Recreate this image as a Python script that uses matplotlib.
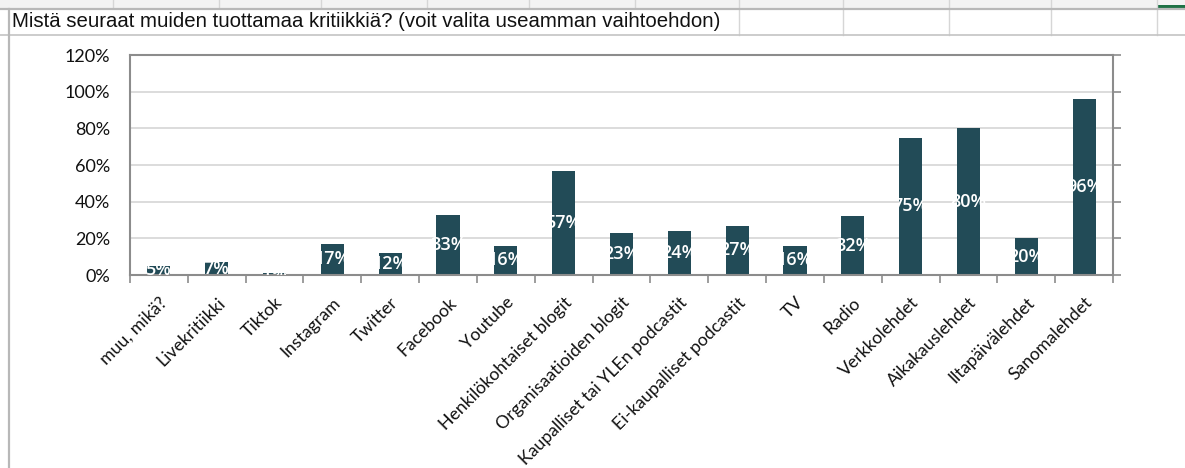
import matplotlib
matplotlib.use("Agg")
import matplotlib.pyplot as plt
from matplotlib.lines import Line2D
from matplotlib.patches import Rectangle
import matplotlib.transforms as mtransforms
import numpy as np

title = "Mistä seuraat muiden tuottamaa kritiikkiä? (voit valita useamman vaihtoehdon)"
categories = ["muu, mikä?", "Livekritiikki", "Tiktok", "Instagram", "Twitter", "Facebook",
              "Youtube", "Henkilökohtaiset blogit", "Organisaatioiden blogit",
              "Kaupalliset tai YLEn podcastit", "Ei-kaupalliset podcastit", "TV", "Radio",
              "Verkkolehdet", "Aikakauslehdet", "Iltapäivälehdet", "Sanomalehdet"]
values = [5, 7, 1, 17, 12, 33, 16, 57, 23, 24, 27, 16, 32, 75, 80, 20, 96]
yticks = [0, 20, 40, 60, 80, 100, 120]
ytick_labels = ["0%", "20%", "40%", "60%", "80%", "100%", "120%"]

W, H = 1185, 468
fig = plt.figure(figsize=(W / 100, H / 100), dpi=100)
fig.patch.set_facecolor("white")

def px(x, y):
    return x / W, 1 - y / H

# spreadsheet background
grid_c = "#d6d6d6"
fig.add_artist(Rectangle(px(0, 8), 1, 8 / H, transform=fig.transFigure, color="#f3f3f3", lw=0))
for xv in [113, 219, 321, 427, 529, 635]:
    fig.add_artist(Line2D([xv / W] * 2, [1 - 0 / H, 1 - 8 / H], transform=fig.transFigure, color=grid_c, lw=1))
for xv in [739, 843, 949, 1051, 1157]:
    fig.add_artist(Line2D([xv / W] * 2, [1, 1 - 35 / H], transform=fig.transFigure, color=grid_c, lw=1))
fig.add_artist(Line2D([0, 1], [1 - 8.5 / H] * 2, transform=fig.transFigure, color="#b8b8b8", lw=1.6))
fig.add_artist(Line2D([0, 1], [1 - 34.5 / H] * 2, transform=fig.transFigure, color="#c4c4c4", lw=1.2))
fig.add_artist(Line2D([8.5 / W] * 2, [0, 1 - 8.5 / H], transform=fig.transFigure, color="#b8b8b8", lw=1.6))
fig.add_artist(Rectangle(px(1157, 8), 28 / W, 3 / H, transform=fig.transFigure, color="#1e7145", lw=0))
fig.text(12 / W, 1 - 21.5 / H, title, fontsize=14.7, family="Liberation Sans",
         ha="left", va="center", color="#111111")

ax = fig.add_axes([130 / W, 193 / H, 983 / W, 220 / H])
x = np.arange(len(categories))
bar_c = "#224b57"
ax.bar(x, values, width=0.4, color=bar_c, zorder=2)
for xi, v in zip(x, values):
    ax.text(xi, v / 2, f"{v}%", ha="center", va="center", color="white",
            fontsize=13, family="Open Sans", fontweight="semibold", zorder=3, clip_on=True)

ax.set_xlim(-0.5, len(categories) - 0.5)
ax.set_ylim(0, 120)
ax.set_yticks(yticks)
ax.set_yticklabels(ytick_labels, family="Lato", fontsize=13, color="#111111")
ax.yaxis.grid(True, color="#d9d9d9", lw=1.3, zorder=0)
ax.set_axisbelow(True)
ax.tick_params(axis="y", left=False, right=True, direction="out", length=6,
               color="#8c8c8c", width=1.2, pad=8.5, labelleft=True, labelright=False)

ax.set_xticks(x)
offset = mtransforms.ScaledTranslation(4 / 100, 0, fig.dpi_scale_trans)
labels = ax.set_xticklabels(categories, rotation=45, ha="right", va="top",
                            rotation_mode="anchor", family="Lato", fontsize=12.7, color="#111111")
for lab in labels:
    lab.set_transform(lab.get_transform() + offset)
ax.tick_params(axis="x", which="major", length=0, pad=14)
ax.set_xticks(np.arange(-0.5, len(categories), 1), minor=True)
ax.tick_params(axis="x", which="minor", length=6, direction="out", color="#8c8c8c", width=1.2)

for s in ax.spines.values():
    s.set_color("#8c8c8c")
    s.set_linewidth(1.5)

fig.savefig("out.png", dpi=100, facecolor="white")
